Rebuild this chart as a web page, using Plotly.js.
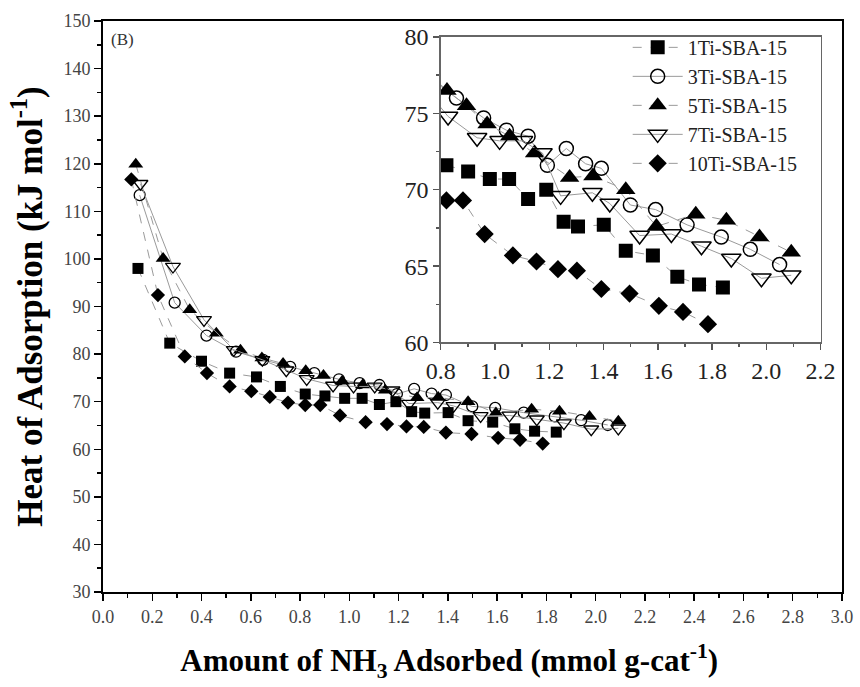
<!DOCTYPE html>
<html>
<head>
<meta charset="utf-8">
<script src="https://cdn.plot.ly/plotly-3.0.1.min.js"></script>
<style>html,body{margin:0;padding:0;background:#fff;}#chart{width:860px;height:687px;}</style>
</head>
<body>
<div id="chart"></div>
<script>
// Series names
const seriesNames = ["1Ti-SBA-15", "3Ti-SBA-15", "5Ti-SBA-15", "7Ti-SBA-15", "10Ti-SBA-15"];

// Amount adsorbed (mmol g-cat^-1) and heat of adsorption (kJ mol^-1)
const x1Ti = [0.142, 0.271, 0.400, 0.514, 0.623, 0.720, 0.821, 0.901, 0.981, 1.052, 1.122, 1.189, 1.253, 1.306, 1.401, 1.482, 1.582, 1.672, 1.752, 1.840];
const y1Ti = [98.0, 82.3, 78.5, 76.0, 75.2, 73.2, 71.6, 71.2, 70.7, 70.7, 69.4, 70.0, 67.9, 67.6, 67.7, 66.0, 65.7, 64.3, 63.8, 63.6];

const x3Ti = [0.149, 0.291, 0.420, 0.540, 0.650, 0.760, 0.858, 0.958, 1.042, 1.122, 1.193, 1.263, 1.334, 1.392, 1.499, 1.592, 1.708, 1.834, 1.941, 2.049];
const y3Ti = [113.4, 90.8, 83.9, 80.5, 78.8, 77.3, 76.0, 74.7, 73.9, 73.5, 71.6, 72.7, 71.7, 71.4, 69.0, 68.7, 67.7, 66.9, 66.1, 65.1];

const x5Ti = [0.133, 0.244, 0.352, 0.460, 0.558, 0.645, 0.731, 0.823, 0.895, 0.971, 1.054, 1.146, 1.275, 1.361, 1.482, 1.595, 1.740, 1.853, 1.975, 2.092];
const y5Ti = [119.9, 100.1, 89.3, 84.4, 80.8, 79.2, 78.0, 76.5, 75.5, 74.3, 73.5, 72.4, 70.8, 70.9, 70.0, 67.6, 68.4, 68.0, 66.9, 65.9];

const x7Ti = [0.152, 0.284, 0.410, 0.531, 0.647, 0.744, 0.827, 0.934, 1.017, 1.103, 1.175, 1.242, 1.359, 1.423, 1.533, 1.650, 1.761, 1.871, 1.982, 2.092];
const y7Ti = [115.8, 98.4, 87.2, 80.9, 78.8, 76.6, 74.8, 73.4, 73.2, 73.2, 72.4, 69.6, 69.8, 69.1, 67.0, 67.1, 66.3, 65.5, 64.2, 64.4];

const x10Ti = [0.115, 0.223, 0.332, 0.422, 0.514, 0.602, 0.677, 0.751, 0.821, 0.882, 0.962, 1.066, 1.153, 1.232, 1.302, 1.392, 1.496, 1.604, 1.693, 1.785];
const y10Ti = [116.7, 92.4, 79.5, 76.0, 73.2, 72.2, 71.0, 69.8, 69.3, 69.3, 67.1, 65.7, 65.3, 64.8, 64.7, 63.5, 63.2, 62.4, 62.0, 61.2];

// Axis tick values
const mainXTicks = [0.0, 0.2, 0.4, 0.6, 0.8, 1.0, 1.2, 1.4, 1.6, 1.8, 2.0, 2.2, 2.4, 2.6, 2.8, 3.0];
const mainYTicks = [30, 40, 50, 60, 70, 80, 90, 100, 110, 120, 130, 140, 150];
const insetXTicks = [0.8, 1.0, 1.2, 1.4, 1.6, 1.8, 2.0, 2.2];
const insetYTicks = [60, 65, 70, 75, 80];

const xs = [x1Ti, x3Ti, x5Ti, x7Ti, x10Ti];
const ys = [y1Ti, y3Ti, y5Ti, y7Ti, y10Ti];
const symbols = ["square", "circle-open", "triangle-up", "triangle-down-open", "diamond"];
const dashes = ["dash", "solid", "dash", "solid", "dash"];

const traces = [];
for (let i = 0; i < seriesNames.length; i++) {
  traces.push({
    x: xs[i], y: ys[i], name: seriesNames[i], type: "scatter", mode: "lines+markers",
    xaxis: "x", yaxis: "y", showlegend: false,
    line: {color: "#9a9a9a", width: 1, dash: dashes[i]},
    marker: {symbol: symbols[i], size: symbols[i].indexOf("triangle") >= 0 ? 13 : 11, color: "#000",
             line: {color: "#000", width: symbols[i].indexOf("open") >= 0 ? 1.3 : 0}}
  });
}
for (let i = 0; i < seriesNames.length; i++) {
  traces.push({
    x: xs[i], y: ys[i], name: seriesNames[i], type: "scatter", mode: "lines+markers",
    xaxis: "x2", yaxis: "y2", showlegend: true,
    line: {color: "#9a9a9a", width: 1, dash: dashes[i]},
    marker: {symbol: symbols[i], size: symbols[i].indexOf("triangle") >= 0 ? 17 : 14, color: "#000",
             line: {color: "#000", width: symbols[i].indexOf("open") >= 0 ? 1.5 : 0}}
  });
}

const serif = "Liberation Serif, Times New Roman, serif";

const layout = {
  width: 860, height: 687,
  margin: {l: 103, r: 18, t: 21, b: 95},
  paper_bgcolor: "#fff", plot_bgcolor: "#fff",
  font: {family: serif, color: "#000"},
  showlegend: true,
  legend: {x: 0.71, y: 0.988, xanchor: "left", yanchor: "top", bgcolor: "rgba(0,0,0,0)",
           font: {family: serif, size: 20, color: "#222"}, tracegroupgap: 0, itemsizing: "trace", itemwidth: 50},
  xaxis: {
    domain: [0, 1], range: [0, 3.0], tickvals: mainXTicks, tickformat: ".1f",
    ticks: "outside", ticklen: 7, tickwidth: 1.5, tickcolor: "#000",
    minor: {dtick: 0.1, ticks: "outside", ticklen: 4, tickwidth: 1.5, tickcolor: "#000"},
    showline: true, linecolor: "#000", linewidth: 2, mirror: true, showgrid: false, zeroline: false,
    tickfont: {family: serif, size: 18, color: "#444"},
    title: {text: "<b>Amount of NH<sub>3</sub> Adsorbed (mmol g-cat<sup>-1</sup>)</b>&nbsp;&nbsp;&nbsp;&nbsp;&nbsp;&nbsp;", font: {family: serif, size: 31, color: "#000"}, standoff: 24}
  },
  yaxis: {
    domain: [0, 1], range: [30, 150], tickvals: mainYTicks,
    ticks: "outside", ticklen: 7, tickwidth: 1.5, tickcolor: "#000",
    minor: {dtick: 5, ticks: "outside", ticklen: 4, tickwidth: 1.5, tickcolor: "#000"},
    showline: true, linecolor: "#000", linewidth: 2, mirror: true, showgrid: false, zeroline: false,
    tickfont: {family: serif, size: 18, color: "#444"},
    title: {text: "<b>Heat of Adsorption (kJ mol<sup>-1</sup>)</b>", font: {family: serif, size: 35, color: "#000"}, standoff: 10}
  },
  xaxis2: {
    domain: [0.457, 0.971], anchor: "y2", range: [0.8, 2.2], tickvals: insetXTicks, tickformat: ".1f",
    ticks: "outside", ticklen: 6, tickwidth: 1.5, tickcolor: "#555",
    minor: {dtick: 0.1, ticks: "outside", ticklen: 3, tickwidth: 1.5, tickcolor: "#555"},
    showline: true, linecolor: "#666", linewidth: 1.5, mirror: true, showgrid: false, zeroline: false,
    tickfont: {family: serif, size: 24, color: "#222"}
  },
  yaxis2: {
    domain: [0.437, 0.972], anchor: "x2", range: [60, 80], tickvals: insetYTicks,
    ticks: "outside", ticklen: 6, tickwidth: 1.5, tickcolor: "#555",
    minor: {dtick: 2.5, ticks: "outside", ticklen: 3, tickwidth: 1.5, tickcolor: "#555"},
    showline: true, linecolor: "#666", linewidth: 1.5, mirror: true, showgrid: false, zeroline: false,
    tickfont: {family: serif, size: 24, color: "#222"}
  },
  annotations: [
    {text: "(B)", xref: "paper", yref: "paper", x: 0.008, y: 0.988, xanchor: "left", yanchor: "top",
     showarrow: false, font: {family: serif, size: 17, color: "#333"}}
  ]
};

Plotly.newPlot("chart", traces, layout, {displayModeBar: false, staticPlot: true});
</script>
</body>
</html>
